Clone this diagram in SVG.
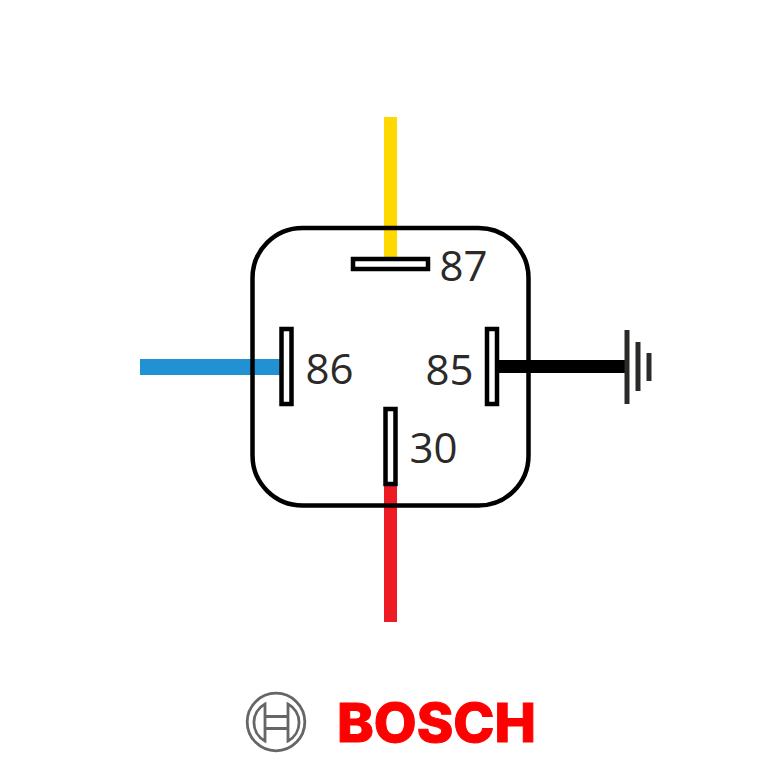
<svg xmlns="http://www.w3.org/2000/svg" width="780" height="780" viewBox="0 0 780 780">
<style>
.pin{fill:#fff;stroke:#000;stroke-width:4.5}
.lbl{font-family:"Open Sans","Liberation Sans",sans-serif;font-size:42px;fill:#2b2a29}
.gnd{stroke:#2b2a29;stroke-width:5;fill:none}
.logo{fill:none;stroke:#666}
</style>
<rect width="780" height="780" fill="#fff"/>
<g id="connectors">
<rect x="384" y="117" width="13" height="142" fill="#ffd800"/>
<rect x="140" y="359" width="143" height="16" fill="#2191d3"/>
<rect x="384" y="484" width="13" height="138" fill="#ed1c24"/>
<rect x="497" y="360" width="130" height="13" fill="#000"/>
</g>
<g id="relay-body"><rect x="252.500" y="228" width="276" height="277.500" rx="50" ry="50" fill="none" stroke="#000" stroke-width="4.500"/></g>
<g id="pin-87"><rect class="pin" x="353" y="259" width="75" height="10"/><text class="lbl" x="439.500" y="281">87</text></g>
<g id="pin-86"><rect class="pin" x="281.500" y="329" width="10" height="75"/><text class="lbl" x="305.500" y="384">86</text></g>
<g id="pin-85"><rect class="pin" x="487" y="329" width="10" height="75"/><text class="lbl" x="425.500" y="385">85</text></g>
<g id="pin-30"><rect class="pin" x="385.500" y="409" width="10" height="75"/><text class="lbl" x="409.500" y="463">30</text></g>
<g id="ground">
<line class="gnd" x1="627" y1="330" x2="627" y2="404"/>
<line class="gnd" x1="638" y1="342" x2="638" y2="391"/>
<line class="gnd" x1="649" y1="353" x2="649" y2="381"/>
</g>
<g id="bosch-logo">
<circle class="logo" cx="276" cy="722" r="28.800" stroke-width="2.800"/>
<path class="logo" stroke-width="2.800" d="M265 704V741A21 21 0 0 1 265 704ZM288 704V741A21 21 0 0 0 288 704ZM265 716.500H288M265 728.500H288"/>
<text x="337" y="742" font-family="Inter,'Open Sans','Liberation Sans',sans-serif" font-weight="800" font-size="54" fill="#f00" stroke="#f00" stroke-width="1" textLength="199" lengthAdjust="spacingAndGlyphs">BOSCH</text>
</g>
</svg>
